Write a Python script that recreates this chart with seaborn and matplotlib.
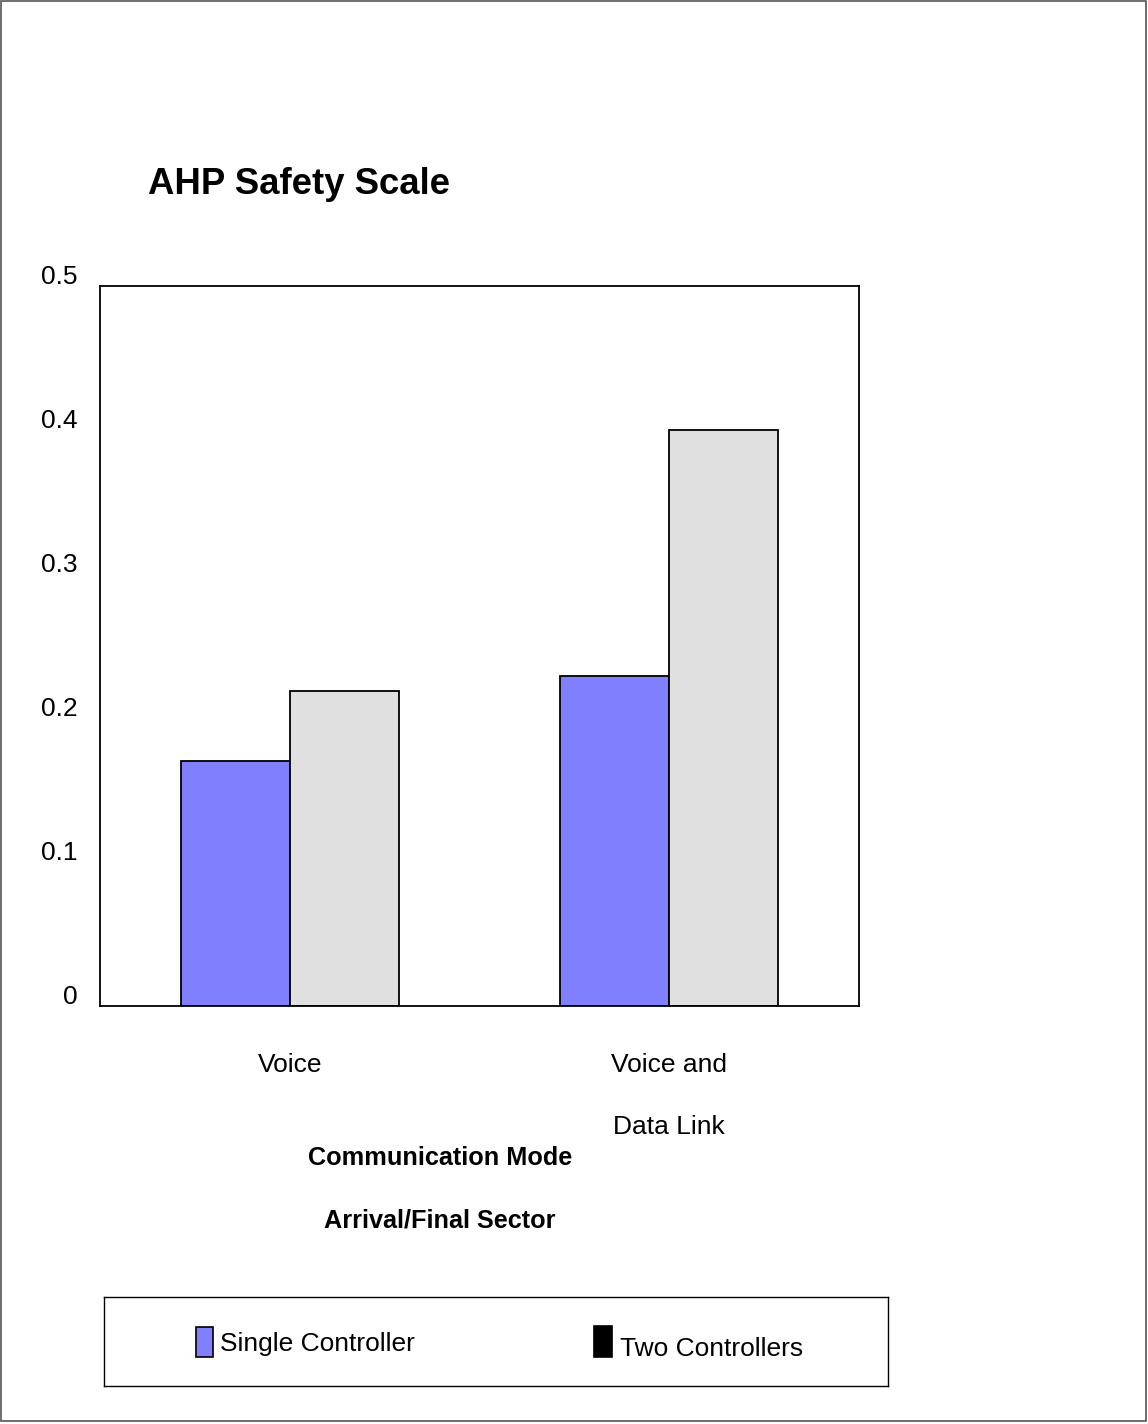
import matplotlib
matplotlib.use("Agg")
import matplotlib.pyplot as plt
import matplotlib.transforms as mtransforms
from matplotlib.patches import Rectangle
import seaborn as sns
import pandas as pd

# Data
modes = ["Voice", "Voice and\n\nData Link"]
staffing = ["Single Controller", "Two Controllers"]
single_controller = [0.170, 0.229]
two_controllers = [0.219, 0.400]
y_ticks = [0, 0.1, 0.2, 0.3, 0.4, 0.5]
y_tick_labels = ["0", "0.1", "0.2", "0.3", "0.4", "0.5"]

df = pd.DataFrame({
    "mode": modes * 2,
    "staffing": [staffing[0]] * 2 + [staffing[1]] * 2,
    "score": single_controller + two_controllers,
})

sns.set_theme(style="white")
plt.rcParams["font.family"] = ["Liberation Sans", "DejaVu Sans"]

W, H = 1148, 1424
fig = plt.figure(figsize=(W / 100, H / 100), dpi=100)

def fx(px):
    return px / W

def fy(py):
    return 1 - py / H

ax = fig.add_axes([fx(100), fy(1006), fx(859) - fx(100), fy(286) - fy(1006)])

bar_colors = {"Single Controller": "#8080FF", "Two Controllers": "#E0E0E0"}
sns.barplot(data=df, x="mode", y="score", hue="staffing", order=modes,
            hue_order=staffing, palette=bar_colors, width=0.575,
            edgecolor="black", linewidth=1.3, saturation=1, ax=ax)
ax.get_legend().remove()

ax.set_xlim(-0.5, 1.5)
ax.set_ylim(0, 0.5)
ax.set_yticks(y_ticks)
ax.set_yticklabels(y_tick_labels)
ax.set_xlabel("")
ax.set_ylabel("")
for sp in ax.spines.values():
    sp.set_visible(True)
    sp.set_color("black")
    sp.set_linewidth(1.3)
ax.tick_params(axis="both", length=0, labelsize=19, colors="black")
ax.tick_params(axis="y", pad=16)
ax.tick_params(axis="x", pad=33.5)

# y labels sit a little above their gridline
shift = mtransforms.ScaledTranslation(0, 12 / 100, fig.dpi_scale_trans)
for lbl in ax.get_yticklabels():
    lbl.set_transform(lbl.get_transform() + shift)
for lbl in ax.get_xticklabels():
    lbl.set_linespacing(1.39)
    lbl.set_verticalalignment("top")

# Title and axis caption
fig.text(fx(148), fy(184), "AHP Safety Scale", fontsize=26.3, fontweight="bold",
         ha="left", va="center", color="black")
fig.text(fx(440), fy(1146), "Communication Mode\n\nArrival/Final Sector",
         fontsize=18.2, fontweight="bold", ha="center", va="top",
         linespacing=1.39, color="black")

# Legend box
lax = fig.add_axes([fx(104), fy(1386), fx(888) - fx(104), fy(1297) - fy(1386)])
lax.set_xlim(104, 888)
lax.set_ylim(1386, 1297)
lax.set_xticks([])
lax.set_yticks([])
lax.set_facecolor("white")
for sp in lax.spines.values():
    sp.set_color("black")
    sp.set_linewidth(1.0)
lax.add_patch(Rectangle((196, 1327), 17, 30, facecolor="#8080FF",
                        edgecolor="black", linewidth=1.2))
lax.text(220, 1344, "Single Controller", fontsize=19, va="center", ha="left",
         color="black")
lax.add_patch(Rectangle((594, 1326), 18, 31, facecolor="black",
                        edgecolor="black", linewidth=1.2))
lax.text(620, 1349, "Two Controllers", fontsize=19, va="center", ha="left",
         color="black")

# Outer frame of the page
fig.patches.append(Rectangle((0.0005, 0.002), 0.998, 0.997, transform=fig.transFigure,
                             fill=False, edgecolor="#555555", linewidth=1.2))

fig.savefig("out.png", dpi=100, facecolor="white")
